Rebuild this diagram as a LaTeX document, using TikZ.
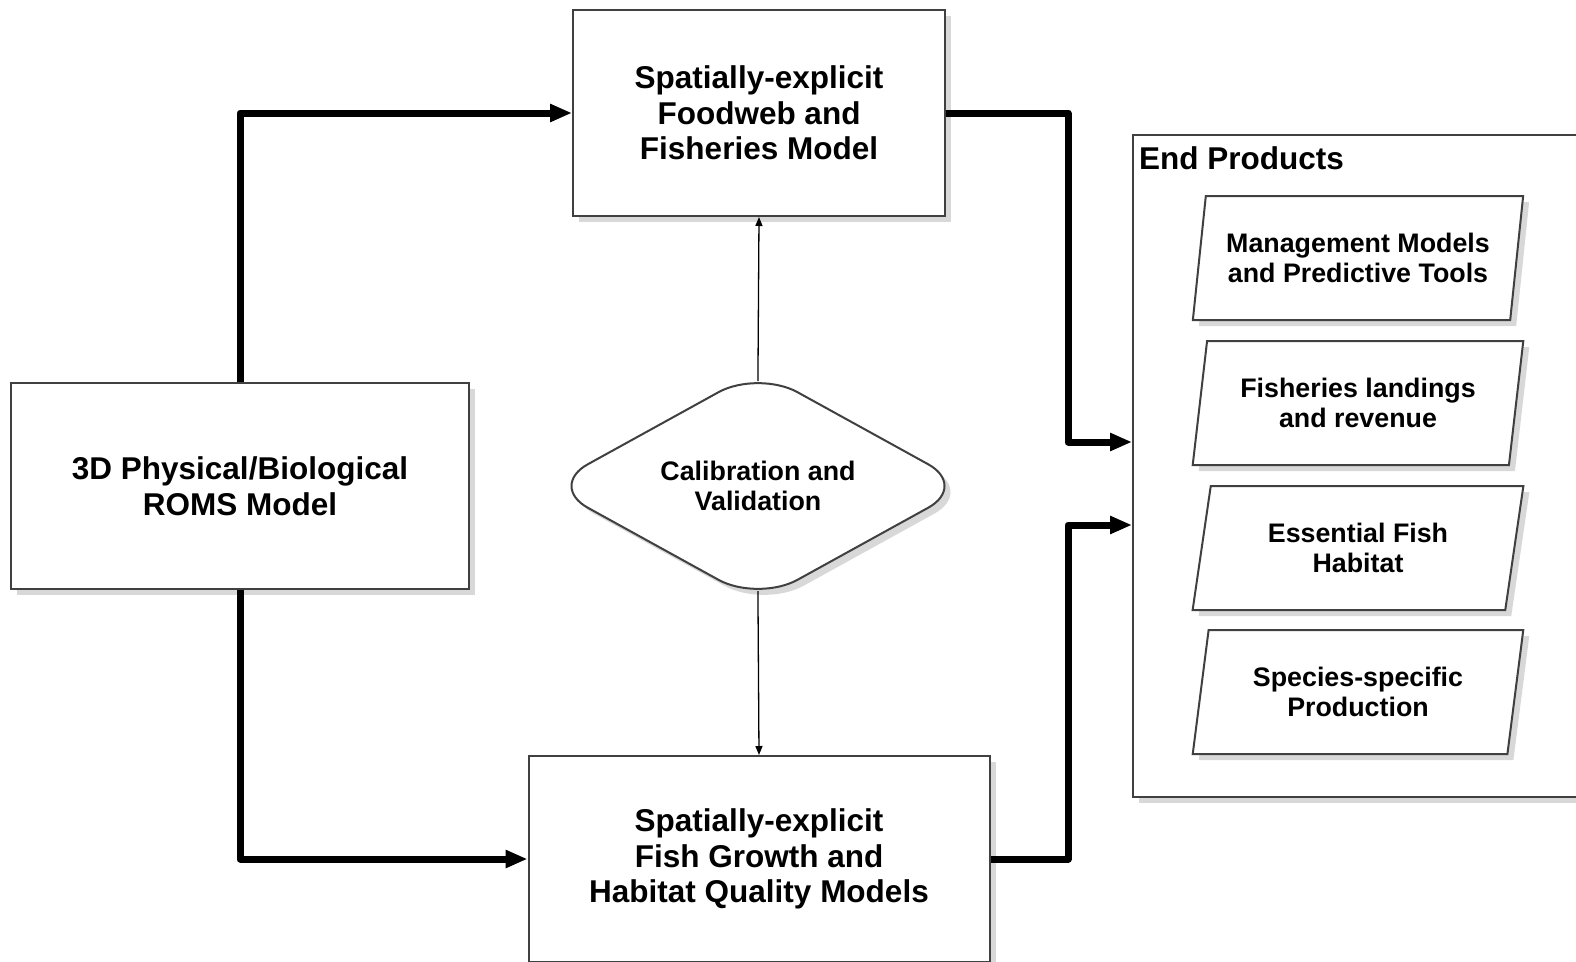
\documentclass[tikz,border=0pt]{standalone}
\usepackage{fontspec}
\setmainfont{Liberation Sans}
\usetikzlibrary{shapes.geometric, shadows, arrows.meta}

\begin{document}
\begin{tikzpicture}[x=1pt, y=-1pt,
    box/.style={rectangle, draw=black!75, line width=2pt, fill=white, align=center, font=\fontsize{31.5}{35.5}\selectfont\bfseries, drop shadow={shadow xshift=6pt, shadow yshift=-6pt, opacity=.3}},
    decision/.style={diamond, aspect=1.8, inner sep=0pt, rounded corners=45pt, draw=black!75, line width=2pt, fill=white, align=center, font=\fontsize{26.8}{30.2}\selectfont\bfseries, drop shadow={shadow xshift=6pt, shadow yshift=-6pt, opacity=.3}},
    product/.style={trapezium, trapezium stretches=true, trapezium left angle=78.5, trapezium right angle=101.5, minimum width=331pt, minimum height=124pt, draw=black!75, line width=2pt, fill=white, align=center, font=\fontsize{26.8}{30.2}\selectfont\bfseries, drop shadow={shadow xshift=6pt, shadow yshift=-6pt, opacity=.3}},
    thick arrow/.style={line width=7pt, line join=round, -{Triangle[length=22pt, width=17pt]}},
    thin arrow/.style={line width=1.3pt, shorten <=-12pt, -{Triangle[length=9pt, width=7pt]}}]
    \useasboundingbox (0,0) rectangle (1576,961);
    \clip (0,0) rectangle (1576,961);
    \fill[white] (0,0) rectangle (1576,961);
    % models
    \node[box, minimum width=372pt, minimum height=206pt] (fw) at (759,113) {Spatially-explicit\\Foodweb and\\Fisheries Model};
    \node[box, minimum width=458pt, minimum height=206pt] (roms) at (240,486) {3D Physical/Biological\\ROMS Model};
    \node[decision, minimum width=420pt, minimum height=232pt] (cal) at (758,486) {Calibration and\\Validation};
    \node[box, minimum width=461pt, minimum height=206pt] (gm) at (759,859) {Spatially-explicit\\Fish Growth and\\Habitat Quality Models};
    % end products
    \node[box, anchor=north west, minimum width=480pt, minimum height=662pt] (prod) at (1132,134) {};
    \node[font=\fontsize{31.5}{35.5}\selectfont\bfseries, anchor=base west, inner sep=0pt] (prodtitle) at (1139,169) {End Products};
    \node[product] (p1) at (1358,258) {Management Models\\and Predictive Tools};
    \node[product] (p2) at (1358,403) {Fisheries landings\\and revenue};
    \node[product] (p3) at (1358,548) {Essential Fish\\Habitat};
    \node[product] (p4) at (1358,692) {Species-specific\\Production};
    \coordinate (in1) at (1132,442);
    \coordinate (in2) at (1132,525);
    % edges
    \draw[thick arrow] (roms.north) |- (fw.west);
    \draw[thick arrow] (roms.south) |- (gm.west);
    \draw[thick arrow] (fw.east) -| ([xshift=-64pt]in1) -- (in1);
    \draw[thick arrow] (gm.east) -| ([xshift=-64pt]in2) -- (in2);
    \draw[thin arrow] (cal.north) -- (fw.south);
    \draw[thin arrow] (cal.south) -- (gm.north);
\end{tikzpicture}
\end{document}
